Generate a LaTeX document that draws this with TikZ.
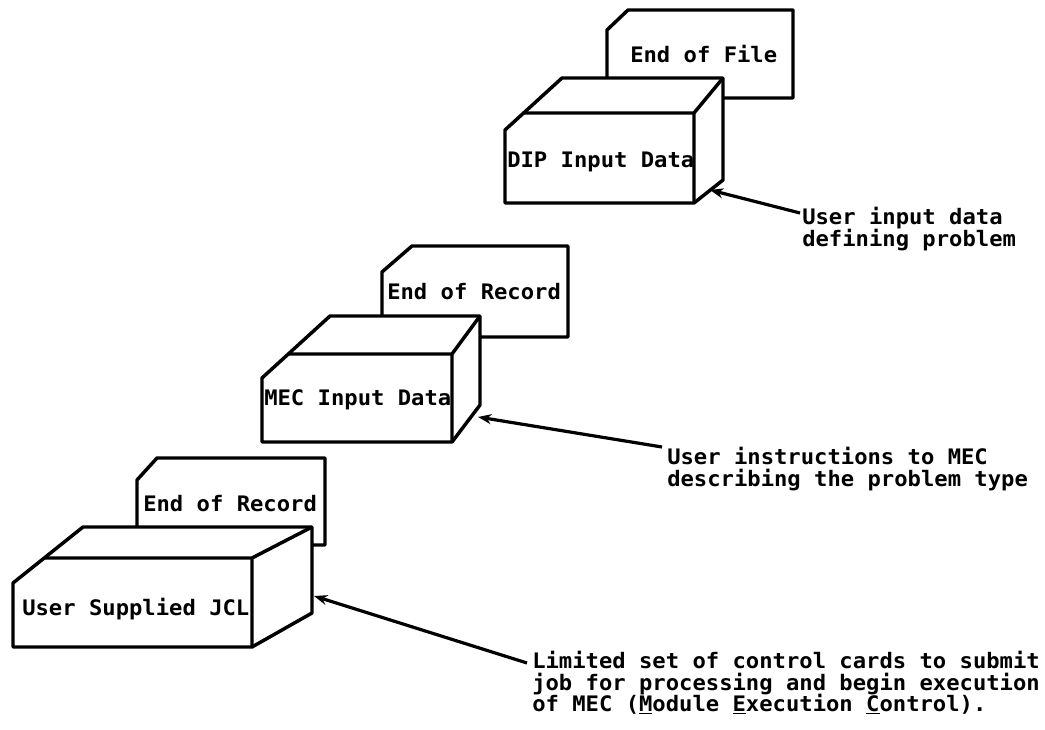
\documentclass[tikz,border=0pt]{standalone}
\usepackage{fontspec}
\setmonofont{DejaVu Sans Mono}[FakeStretch=1.04]
\usepackage{tikz}
\usetikzlibrary{arrows.meta}
\setlength{\lineskiplimit}{-20pt}
\tikzset{
    % Base style for all text
    listing base/.style={
        font=\ttfamily\bfseries\fontsize{16}{16.1}\selectfont,
        inner sep=0pt,
    },
    % Card and deck outlines
    deck/.style={
        draw,
        fill=white,
        line width=2.6pt,
        line join=round,
    },
    % Edges inside a deck
    fold/.style={
        draw,
        line width=2.6pt,
        line join=round,
    },
    % Text printed on a card
    card text/.style={
        listing base,
        anchor=base west,
    },
    % Remarks beside the decks
    remark/.style={
        listing base,
        align=left,
        anchor=north west,
    },
    % Pointer from a remark to its deck
    pointer/.style={
        -{Stealth[length=10pt, width=7.5pt]},
        line width=2.4pt,
    },
}

\begin{document}
\begin{tikzpicture}[x=0.75pt, y=-0.75pt]
    \useasboundingbox (0,0) rectangle (1045,730);

    % DIP input deck
    \draw[deck] (607,98) -- (607,30) -- (628,10) -- (793,10) -- (793,98) -- cycle;
    \draw[deck] (505,130) -- (562,78) -- (723,78) -- (723,180) -- (694,203) -- (505,203) -- cycle;
    \draw[fold] (524,113) -- (694,113) -- (723,78) (694,113) -- (694,203);
    \node (eof) [card text] at (630,63) {End of File};
    \node (dip) [card text] at (507,168) {DIP Input Data};
    \coordinate (dipFace) at (710,190);

    % MEC input deck
    \draw[deck] (382,337) -- (382,272) -- (412,246) -- (568,246) -- (568,337) -- cycle;
    \draw[deck] (262,378) -- (330,316) -- (480,316) -- (480,405) -- (452,442) -- (262,442) -- cycle;
    \draw[fold] (288,354) -- (452,354) -- (480,316) (452,354) -- (452,442);
    \node (mecEnd) [card text] at (387,300) {End of Record};
    \node (mec) [card text] at (264,406) {MEC Input Data};
    \coordinate (mecFace) at (478,417);

    % JCL deck
    \draw[deck] (137,545) -- (137,480) -- (157,458) -- (325,458) -- (325,545) -- cycle;
    \draw[deck] (13,583) -- (83,527) -- (312,527) -- (312,613) -- (252,647) -- (13,647) -- cycle;
    \draw[fold] (44,558) -- (252,558) -- (312,527) (252,558) -- (252,647);
    \node (jclEnd) [card text] at (143,511) {End of Record};
    \node (jcl) [card text] at (22,615) {User Supplied JCL};
    \coordinate (jclFace) at (314,596);

    % remarks
    \node (dipNote) [remark] at (802,207) {User input data\\defining problem};
    \node (mecNote) [remark] at (667,447) {User instructions to MEC\\describing the problem type};
    \node (jclNote) [remark] at (532,651) {Limited set of control cards to submit\\job for processing and begin execution\\of MEC (\underline{M}odule \underline{E}xecution \underline{C}ontrol).};

    \draw[pointer] ([shift={(-2,6)}]dipNote.north west) -- (dipFace);
    \draw[pointer] ([shift={(-5,0)}]mecNote.north west) -- (mecFace);
    \draw[pointer] ([shift={(-5,12)}]jclNote.north west) -- (jclFace);
\end{tikzpicture}
\end{document}
